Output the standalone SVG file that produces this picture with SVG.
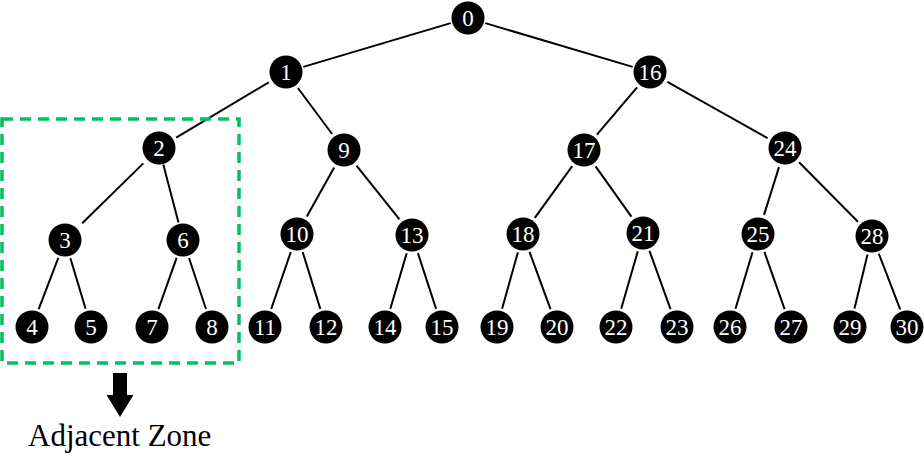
<svg xmlns="http://www.w3.org/2000/svg" width="924" height="456" viewBox="0 0 924 456">
<style>
.n circle{fill:#000}
.n text{fill:#fff;font-family:"Liberation Serif","Times New Roman",serif;font-size:23px;text-anchor:middle}
#edges line{stroke:#000;stroke-width:2}
.lbl{font-family:"Liberation Serif","Times New Roman",serif;font-size:31px;fill:#000}
</style>
<rect width="924" height="456" fill="#fff"/>
<g id="edges">
<line x1="450.7" y1="23.1" x2="303.3" y2="66.9"/>
<line x1="485.3" y1="23.1" x2="632.7" y2="66.9"/>
<line x1="268.8" y1="82.3" x2="176.2" y2="137.7"/>
<line x1="297.9" y1="88" x2="332.1" y2="134"/>
<line x1="637.1" y1="87.3" x2="596.9" y2="134.7"/>
<line x1="667.4" y1="81.8" x2="767.6" y2="138.2"/>
<line x1="143.3" y1="163.4" x2="82.2" y2="223.2"/>
<line x1="163.3" y1="164.4" x2="178.5" y2="222.6"/>
<line x1="334.2" y1="167.4" x2="306.8" y2="216.6"/>
<line x1="356.5" y1="165.6" x2="399.5" y2="219.4"/>
<line x1="572.2" y1="166.2" x2="534.8" y2="217.8"/>
<line x1="595.6" y1="166.3" x2="631.4" y2="216.7"/>
<line x1="779" y1="167.1" x2="764" y2="214.9"/>
<line x1="799.1" y1="162.2" x2="857.9" y2="221.8"/>
<line x1="58.3" y1="257.8" x2="38.7" y2="309.2"/>
<line x1="70.4" y1="258.2" x2="85.6" y2="308.8"/>
<line x1="176.6" y1="257.9" x2="158.4" y2="309.1"/>
<line x1="189" y1="258" x2="206" y2="309"/>
<line x1="290.8" y1="252" x2="271.2" y2="309"/>
<line x1="302.7" y1="252.1" x2="320.3" y2="308.9"/>
<line x1="406.7" y1="253.2" x2="390.3" y2="308.8"/>
<line x1="417.9" y1="253.1" x2="436.1" y2="308.9"/>
<line x1="517.9" y1="252.3" x2="502.1" y2="308.7"/>
<line x1="529.5" y1="251.8" x2="550.5" y2="309.2"/>
<line x1="637.8" y1="251.3" x2="621.2" y2="308.7"/>
<line x1="649.5" y1="250.9" x2="670.5" y2="309.1"/>
<line x1="752.5" y1="252.2" x2="735.5" y2="308.8"/>
<line x1="764.4" y1="251.9" x2="784.6" y2="309.1"/>
<line x1="867.5" y1="254.5" x2="854.5" y2="308.5"/>
<line x1="878.8" y1="253.7" x2="900.2" y2="309.3"/>
</g>
<g id="n0" class="n"><circle cx="468" cy="18" r="16.5"/><text x="468" y="26">0</text></g>
<g id="n1" class="n"><circle cx="286" cy="72" r="16.5"/><text x="286" y="80">1</text></g>
<g id="n16" class="n"><circle cx="650" cy="72" r="16.5"/><text x="650" y="80">16</text></g>
<g id="n2" class="n"><circle cx="159" cy="148" r="16.5"/><text x="159" y="156">2</text></g>
<g id="n9" class="n"><circle cx="344" cy="150" r="16.5"/><text x="344" y="158">9</text></g>
<g id="n17" class="n"><circle cx="584" cy="150" r="16.5"/><text x="584" y="158">17</text></g>
<g id="n24" class="n"><circle cx="785" cy="148" r="16.5"/><text x="785" y="156">24</text></g>
<g id="n3" class="n"><circle cx="65" cy="240" r="16.5"/><text x="65" y="248">3</text></g>
<g id="n6" class="n"><circle cx="183" cy="240" r="16.5"/><text x="183" y="248">6</text></g>
<g id="n10" class="n"><circle cx="297" cy="234" r="16.5"/><text x="297" y="242">10</text></g>
<g id="n13" class="n"><circle cx="412" cy="235" r="16.5"/><text x="412" y="243">13</text></g>
<g id="n18" class="n"><circle cx="523" cy="234" r="16.5"/><text x="523" y="242">18</text></g>
<g id="n21" class="n"><circle cx="643" cy="233" r="16.5"/><text x="643" y="241">21</text></g>
<g id="n25" class="n"><circle cx="758" cy="234" r="16.5"/><text x="758" y="242">25</text></g>
<g id="n28" class="n"><circle cx="872" cy="236" r="16.5"/><text x="872" y="244">28</text></g>
<g id="n4" class="n"><circle cx="32" cy="327" r="16.5"/><text x="32" y="335">4</text></g>
<g id="n5" class="n"><circle cx="91" cy="327" r="16.5"/><text x="91" y="335">5</text></g>
<g id="n7" class="n"><circle cx="152" cy="327" r="16.5"/><text x="152" y="335">7</text></g>
<g id="n8" class="n"><circle cx="212" cy="327" r="16.5"/><text x="212" y="335">8</text></g>
<g id="n11" class="n"><circle cx="265" cy="327" r="16.5"/><text x="265" y="335">11</text></g>
<g id="n12" class="n"><circle cx="326" cy="327" r="16.5"/><text x="326" y="335">12</text></g>
<g id="n14" class="n"><circle cx="385" cy="327" r="16.5"/><text x="385" y="335">14</text></g>
<g id="n15" class="n"><circle cx="442" cy="327" r="16.5"/><text x="442" y="335">15</text></g>
<g id="n19" class="n"><circle cx="497" cy="327" r="16.5"/><text x="497" y="335">19</text></g>
<g id="n20" class="n"><circle cx="557" cy="327" r="16.5"/><text x="557" y="335">20</text></g>
<g id="n22" class="n"><circle cx="616" cy="327" r="16.5"/><text x="616" y="335">22</text></g>
<g id="n23" class="n"><circle cx="677" cy="327" r="16.5"/><text x="677" y="335">23</text></g>
<g id="n26" class="n"><circle cx="730" cy="327" r="16.5"/><text x="730" y="335">26</text></g>
<g id="n27" class="n"><circle cx="791" cy="327" r="16.5"/><text x="791" y="335">27</text></g>
<g id="n29" class="n"><circle cx="850" cy="327" r="16.5"/><text x="850" y="335">29</text></g>
<g id="n30" class="n"><circle cx="907" cy="327" r="16.5"/><text x="907" y="335">30</text></g>
<g id="zone">
<rect x="2" y="119" width="237" height="244" fill="none" stroke="#00C060" stroke-width="3.5" stroke-dasharray="11 7"/>
<polygon points="113,373 127,373 127,395 133.5,395 120,417 106.5,395 113,395" fill="#000"/>
<text class="lbl" x="28" y="446">Adjacent Zone</text>
</g>
</svg>
